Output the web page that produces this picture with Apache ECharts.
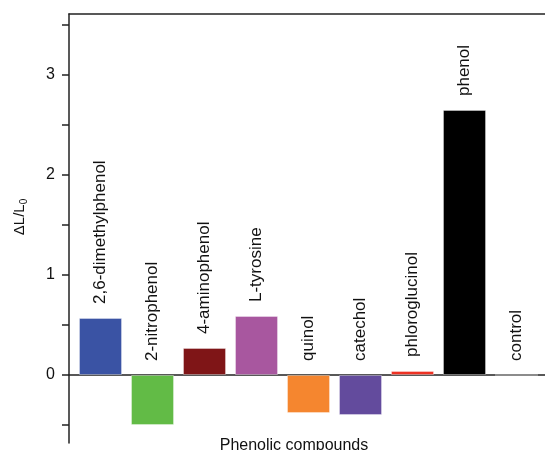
<!DOCTYPE html>
<html><head><meta charset="utf-8">
<script src="https://cdn.jsdelivr.net/npm/echarts@6/dist/echarts.min.js"></script>
<style>html,body{margin:0;padding:0;background:#fff}#c{width:545px;height:450px}</style>
</head><body><div id="c"></div>
<script>
const categories = ['2,6-dimethylphenol','2-nitrophenol','4-aminophenol','L-tyrosine','quinol','catechol','phloroglucinol','phenol','control'];
const values = [0.57, -0.50, 0.27, 0.59, -0.38, -0.40, 0.04, 2.65, 0];
const colors = ['#3a53a4','#62bb46','#7f1517','#a8579f','#f5862f','#634b9d','#ee3224','#000000','rgba(0,0,0,0)'];
const yLabelValues = [0, 1, 2, 3];
const yTickValues = [-0.5, 0, 0.5, 1, 1.5, 2, 2.5, 3, 3.5];
const xName = 'Phenolic compounds';
const yName = 'ΔL/L{s|0}';

const FONT = 'Liberation Sans, Arial, Helvetica, sans-serif';
const chart = echarts.init(document.getElementById('c'), null, {renderer: 'canvas'});

const barData = values.map((v, i) => ({value: [i + 1, v], itemStyle: {color: colors[i]}}));
const labelData = values.map((v, i) => [i + 1, Math.max(v, 0)]);

chart.setOption({
  animation: false,
  backgroundColor: '#fff',
  grid: {left: 69, right: 0, top: 14, bottom: 7, containLabel: false, outerBoundsMode: 'none'},
  xAxis: [{
    type: 'value', min: 0.394, max: 9.548,
    axisLine: {show: true, onZero: true, lineStyle: {color: '#222', width: 1.5}},
    axisTick: {show: false}, axisLabel: {show: false}, splitLine: {show: false},
    name: xName, nameLocation: 'middle', nameGap: -5, nameMoveOverlap: false,
    nameTextStyle: {fontFamily: FONT, fontSize: 16, color: '#111', padding: [0, 26, 0, 0]}
  }, {
    type: 'value', position: 'top', min: 0.394, max: 9.548,
    axisLine: {show: true, onZero: false, lineStyle: {color: '#222', width: 1.5}},
    axisTick: {show: false}, axisLabel: {show: false}, splitLine: {show: false}
  }],
  yAxis: {
    type: 'value', min: -0.68, max: 3.61,
    axisLine: {show: true, onZero: false, lineStyle: {color: '#222', width: 1.5}},
    axisTick: {show: true, inside: false, length: 7, customValues: yTickValues, lineStyle: {color: '#222', width: 1.5}},
    axisLabel: {show: true, customValues: yLabelValues, margin: 14, fontFamily: FONT, fontSize: 16, color: '#111'},
    splitLine: {show: false},
    name: yName, nameLocation: 'middle', nameGap: 40, nameMoveOverlap: false,
    nameTextStyle: {fontFamily: FONT, fontSize: 15, color: '#111', padding: [0, 0, 0, 23],
      rich: {s: {fontFamily: FONT, fontSize: 10, color: '#111', padding: [9, 0, 0, 0]}}}
  },
  series: [{
    type: 'bar', xAxisIndex: 0, data: barData, barWidth: 43, barGap: '-100%',
    itemStyle: {borderColor: 'rgba(255,255,255,0.35)', borderWidth: 1}
  }, {
    type: 'bar', xAxisIndex: 0, data: labelData, barWidth: 43, barGap: '-100%',
    itemStyle: {color: 'rgba(0,0,0,0)', borderWidth: 0}, silent: true,
    label: {
      show: true, position: 'top', distance: 14, rotate: 90, align: 'left', verticalAlign: 'middle',
      fontFamily: FONT, fontSize: 17, color: '#111',
      formatter: p => categories[p.dataIndex]
    }
  }]
});
</script></body></html>
